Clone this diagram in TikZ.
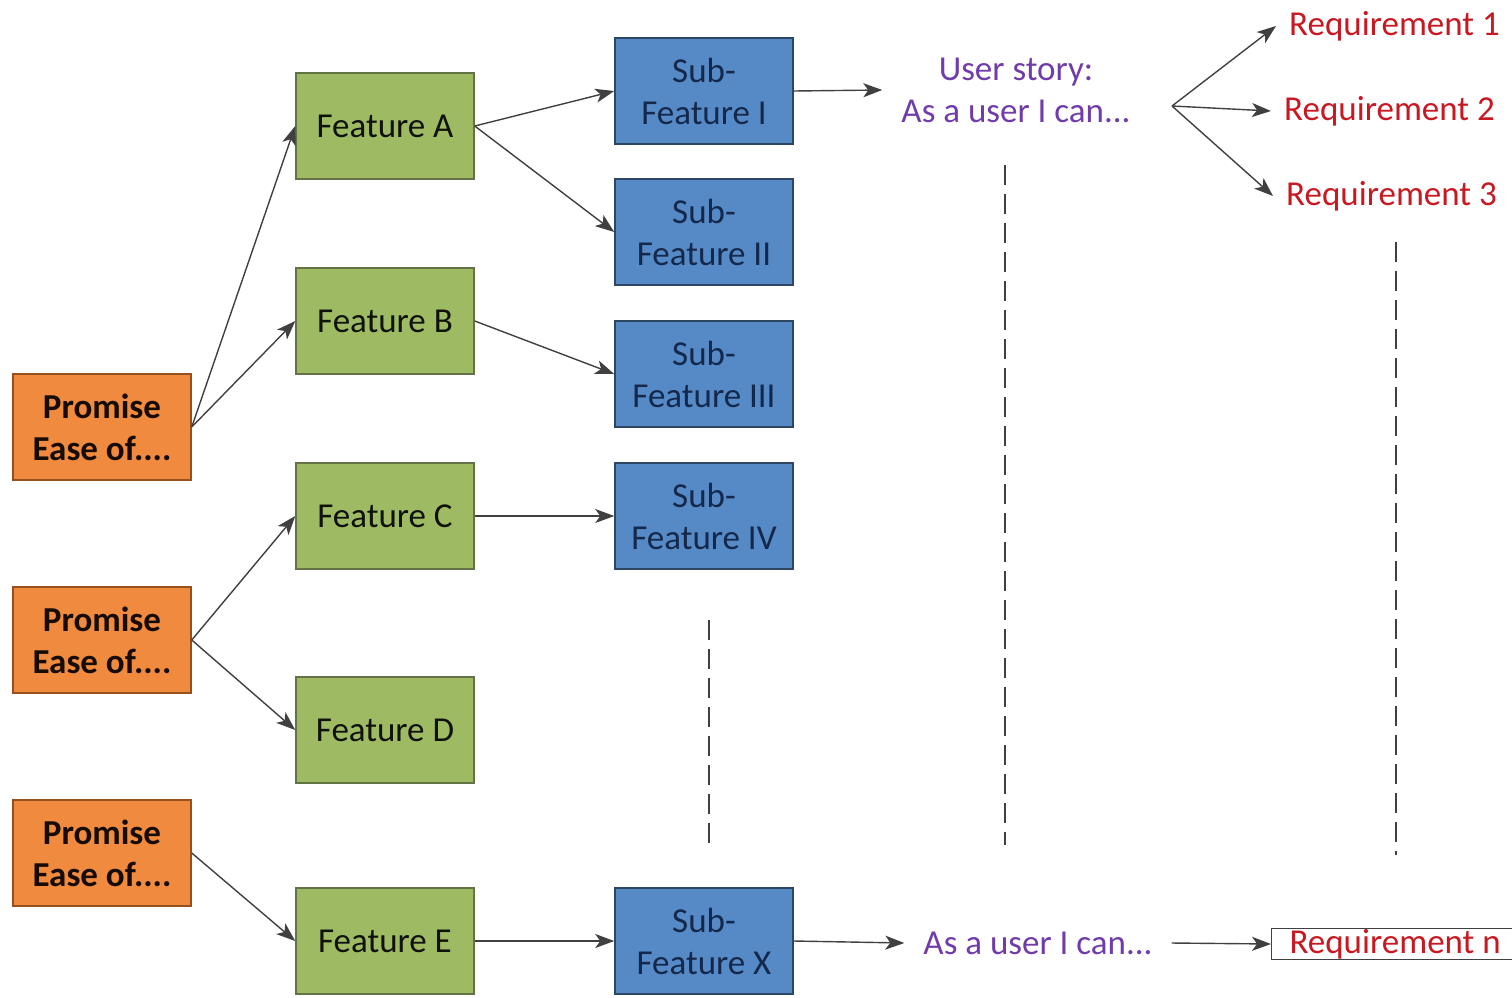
\documentclass[tikz,border=0pt]{standalone}
\usepackage{fontspec}
\setmainfont{Carlito}
\usetikzlibrary{arrows.meta}
\definecolor{promfill}{RGB}{240,138,62}
\definecolor{promdraw}{RGB}{150,80,30}
\definecolor{featfill}{RGB}{158,187,100}
\definecolor{featdraw}{RGB}{100,115,70}
\definecolor{subfill}{RGB}{86,138,198}
\definecolor{subdraw}{RGB}{45,70,100}
\definecolor{subtext}{RGB}{20,40,75}
\definecolor{storytext}{RGB}{112,60,170}
\definecolor{reqtext}{RGB}{200,25,35}
\definecolor{linkcol}{RGB}{64,64,64}
\begin{document}
\begin{tikzpicture}[x=1pt,y=-1pt,
    box/.style={rectangle, minimum width=178pt, minimum height=106pt, inner sep=0pt,
      align=center, line width=1.5pt, font=\fontsize{35}{42}\selectfont},
    promise/.style={box, fill=promfill, draw=promdraw, text=black!85!promdraw, font=\fontsize{35}{42}\selectfont\bfseries},
    feature/.style={box, fill=featfill, draw=featdraw, text=black!85!featdraw},
    subfeat/.style={box, fill=subfill, draw=subdraw, text=subtext},
    story/.style={align=center, inner xsep=19pt, text=storytext, font=\fontsize{35}{42}\selectfont},
    req/.style={inner xsep=13pt, inner ysep=5pt, text=reqtext, font=\fontsize{35}{42}\selectfont},
    link/.style={-{Stealth[length=19pt,width=14pt,inset=5pt]}, line width=1.4pt, draw=linkcol},
    gap/.style={line width=2pt, draw=linkcol, dash pattern=on 20pt off 9pt}]
  \useasboundingbox (0,0) rectangle (1512,997);
  % promises
  \node [promise] (prom1) at (102,427) {Promise\\Ease of....};
  \node [promise] (prom2) at (102,640) {Promise\\Ease of....};
  \node [promise] (prom3) at (102,853) {Promise\\Ease of....};
  % features
  \node [feature] (featA) at (385,126) {Feature A};
  \node [feature] (featB) at (385,321) {Feature B};
  \node [feature] (featC) at (385,516) {Feature C};
  \node [feature] (featD) at (385,730) {Feature D};
  \node [feature] (featE) at (385,941) {Feature E};
  % sub-features
  \node [subfeat] (subI) at (704,91) {Sub-\\Feature I};
  \node [subfeat] (subII) at (704,232) {Sub-\\Feature II};
  \node [subfeat] (subIII) at (704,374) {Sub-\\Feature III};
  \node [subfeat] (subIV) at (704,516) {Sub-\\Feature IV};
  \node [subfeat] (subX) at (704,941) {Sub-\\Feature X};
  % stories and requirements
  \node [story] (story) at (1016,90) {User story:\\As a user I can...};
  \node [story] (storyn) at (1038,943) {As a user I can...};
  \coordinate (fan) at (1172,106);
  \node [req, anchor=west] (req1) at (1276,26) {Requirement 1};
  \node [req, anchor=west] (req2) at (1271,111) {Requirement 2};
  \node [req, anchor=west] (req3) at (1273,196) {Requirement 3};
  \node [req, anchor=west, draw=linkcol, line width=1pt, inner xsep=18pt, inner ysep=1pt, minimum height=30pt] (reqn) at (1271,944) {Requirement n};
  % arrows
  \draw [link] (prom1.east) -- (featA.west);
  \draw [link] (prom1.east) -- (featB.west);
  \draw [link] (prom2.east) -- (featC.west);
  \draw [link] (prom2.east) -- (featD.west);
  \draw [link] (prom3.east) -- (featE.west);
  \draw [link] (featA.east) -- (subI.west);
  \draw [link] (featA.east) -- (subII.west);
  \draw [link] (featB.east) -- (subIII.west);
  \draw [link] (featC.east) -- (subIV.west);
  \draw [link] (featE.east) -- (subX.west);
  \draw [link] (subI.east) -- (story.west);
  \draw [link] (subX.east) -- (storyn.west);
  \draw [link] (storyn.east) -- (reqn.west);
  \draw [link] (fan) -- (req1.west);
  \draw [link] (fan) -- (req2.west);
  \draw [link] (fan) -- (req3.west);
  % dots between
  \draw [gap] (709,620) -- (709,850);
  \draw [gap] (1005,165) -- (1005,845);
  \draw [gap] (1396,242) -- (1396,855);
\end{tikzpicture}
\end{document}
